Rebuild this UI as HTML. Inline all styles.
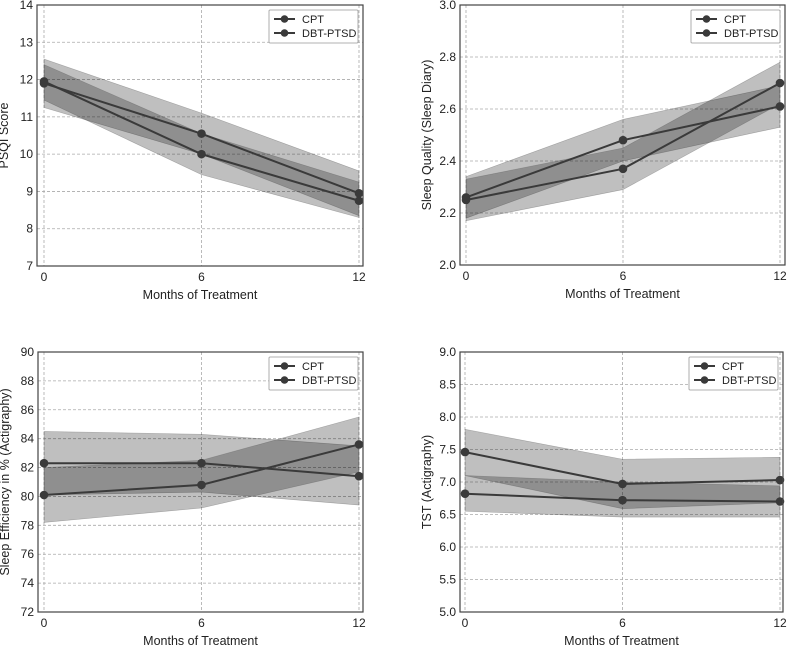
<!DOCTYPE html>
<html><head><meta charset="utf-8"><style>
body{margin:0;background:#fff}
svg{font-family:"Liberation Sans",sans-serif;display:block}
</style></head><body>
<svg id="c" width="788" height="646" viewBox="0 0 788 646"></svg>
<script>
const months=[0,6,12];
const p1cpt=[11.9,10.55,8.95], p1dbt=[11.95,10.0,8.75];
const p1cptHi=[12.55,11.1,9.55], p1cptLo=[11.25,10.0,8.35];
const p1dbtHi=[12.4,10.55,9.25], p1dbtLo=[11.45,9.45,8.3];
const p1ticks=[7,8,9,10,11,12,13,14];
const p2cpt=[2.26,2.48,2.61], p2dbt=[2.25,2.37,2.70];
const p2cptHi=[2.34,2.56,2.69], p2cptLo=[2.18,2.40,2.53];
const p2dbtHi=[2.33,2.45,2.78], p2dbtLo=[2.17,2.29,2.62];
const p2ticks=[2.0,2.2,2.4,2.6,2.8,3.0];
const p3cpt=[82.3,82.3,81.4], p3dbt=[80.1,80.8,83.6];
const p3cptHi=[84.5,84.3,83.5], p3cptLo=[80.1,80.3,79.4];
const p3dbtHi=[82.0,82.5,85.5], p3dbtLo=[78.2,79.2,81.7];
const p3ticks=[72,74,76,78,80,82,84,86,88,90];
const p4cpt=[7.46,6.97,7.03], p4dbt=[6.82,6.72,6.70];
const p4cptHi=[7.81,7.35,7.38], p4cptLo=[7.1,6.59,6.68];
const p4dbtHi=[7.1,7.0,6.94], p4dbtLo=[6.55,6.46,6.46];
const p4ticks=[5.0,5.5,6.0,6.5,7.0,7.5,8.0,8.5,9.0];

const NS="http://www.w3.org/2000/svg";
const svg=document.getElementById('c');
function mk(t,a,p){const e=document.createElementNS(NS,t);for(const k in a)e.setAttribute(k,a[k]);(p||svg).appendChild(e);return e;}

function panel(id,L,R,T,B,X0,X12,ticks,dec,ylabel,cpt,dbt,cHi,cLo,dHi,dLo){
  const g=mk('g',{});
  
  
  const ymin=ticks[0],ymax=ticks[ticks.length-1];
  const xs=m=>X0+(X12-X0)*m/12;
  const ys=v=>B-(B-T)*(v-ymin)/(ymax-ymin);
  ticks.forEach(t=>{
    const y=ys(t);
    const gl=mk('line',{x1:L,x2:R,y1:y,y2:y,stroke:'#aaa','stroke-width':0.8,'stroke-dasharray':'3,2'},g);
    
    
    const tl=mk('text',{x:L-4,y:y+4,'text-anchor':'end','font-size':12,fill:'#222'},g);
    tl.textContent=t.toFixed(dec);
    
    
  });
  months.forEach(m=>{
    const x=xs(m);
    const gl=mk('line',{x1:x,x2:x,y1:T,y2:B,stroke:'#aaa','stroke-width':0.8,'stroke-dasharray':'3,2'},g);
    
    
    const tl=mk('text',{x:x,y:B+15,'text-anchor':'middle','font-size':12,fill:'#222'},g);
    tl.textContent=m;
    
    
  });
  function band(hi,lo,name){
    let d='';
    months.forEach((m,i)=>{d+=(i?'L':'M')+xs(m)+','+ys(hi[i]);});
    for(let i=months.length-1;i>=0;i--)d+='L'+xs(months[i])+','+ys(lo[i]);
    const p=mk('path',{d:d+'Z',fill:'#000','fill-opacity':0.25,stroke:'#555','stroke-opacity':0.4,'stroke-width':0.6},g);
    
    
  }
  band(cHi,cLo,'cpt-ci-band');band(dHi,dLo,'dbt-ptsd-ci-band');
  function line(v,name){
    const pl=mk('polyline',{points:months.map((m,i)=>xs(m)+','+ys(v[i])).join(' '),fill:'none',stroke:'#3a3a3a','stroke-width':2},g);
    
    
    months.forEach((m,i)=>{
      const c=mk('circle',{cx:xs(m),cy:ys(v[i]),r:4.3,fill:'#3a3a3a'},g);
      
      
    });
  }
  line(cpt,'cpt');line(dbt,'dbt-ptsd');
  const fr=mk('rect',{x:L,y:T,width:R-L,height:B-T,fill:'none',stroke:'#444','stroke-width':1.2},g);
  
  
  const xl=mk('text',{x:(L+R)/2,y:B+33,'text-anchor':'middle','font-size':12.5,fill:'#222'},g);
  xl.textContent='Months of Treatment';
  
  
  const yx=L-29, yc=(T+B)/2;
  const yl=mk('text',{x:yx,y:yc,'text-anchor':'middle','font-size':12.5,fill:'#222',transform:`rotate(-90 ${yx} ${yc})`},g);
  yl.textContent=ylabel;
  
  
  const lg=mk('g',{},g);
  
  
  const lx=R-94, ly=T+5;
  mk('rect',{x:lx,y:ly,width:89,height:33,fill:'#fff',stroke:'#999','stroke-width':0.8,rx:1},lg);
  [['CPT',ly+9],['DBT-PTSD',ly+23]].forEach(([n,y])=>{
    mk('line',{x1:lx+5,x2:lx+26,y1:y,y2:y,stroke:'#3a3a3a','stroke-width':2},lg);
    mk('circle',{cx:lx+15.5,cy:y,r:3.8,fill:'#3a3a3a'},lg);
    const t=mk('text',{x:lx+33,y:y+4,'font-size':11,fill:'#222'},lg);
    t.textContent=n;
    
    
  });
}
panel('psqi-panel',37,363,5,266,44,359,p1ticks,0,'PSQI Score',p1cpt,p1dbt,p1cptHi,p1cptLo,p1dbtHi,p1dbtLo);
panel('sleep-quality-panel',460,785,5,265,466,780,p2ticks,1,'Sleep Quality (Sleep Diary)',p2cpt,p2dbt,p2cptHi,p2cptLo,p2dbtHi,p2dbtLo);
panel('sleep-efficiency-panel',38,363,352,612,44,359,p3ticks,0,'Sleep Efficiency in % (Actigraphy)',p3cpt,p3dbt,p3cptHi,p3cptLo,p3dbtHi,p3dbtLo);
panel('tst-panel',460,783,352,612,465,780,p4ticks,1,'TST (Actigraphy)',p4cpt,p4dbt,p4cptHi,p4cptLo,p4dbtHi,p4dbtLo);
</script>
</body></html>
